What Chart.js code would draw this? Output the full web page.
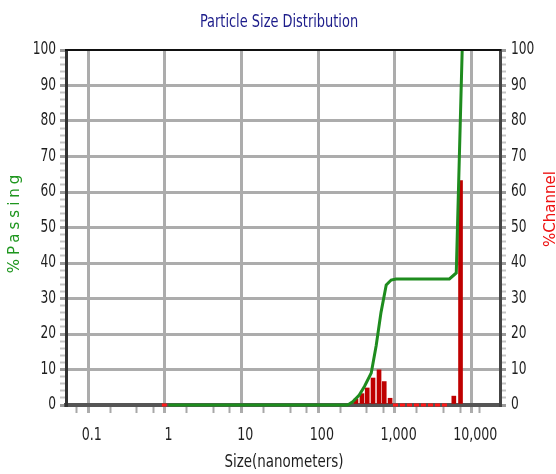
<!DOCTYPE html>
<html>
<head>
<meta charset="utf-8">
<script src="https://cdn.jsdelivr.net/npm/chart.js@4"></script>
<style>
  html, body { margin: 0; padding: 0; background: #fff; }
  canvas { display: block; }
</style>
</head>
<body>
<canvas id="psdChart" width="556" height="474"></canvas>
<script>
// cumulative % passing (green line)
const passSizes  = [1, 217, 252, 307, 360, 440, 510, 590, 690, 800, 925, 4600, 5650, 6750];
const passValues = [0, 0, 0.9, 2.8, 5.3, 9.0, 16.7, 26.1, 33.8, 35.2, 35.5, 35.5, 37.2, 100];

// % per channel (red bars)
const chanSizes  = [278, 333, 390, 464, 556, 650, 775, 5250, 6420];
const chanValues = [1.7, 3.2, 4.8, 7.6, 9.9, 6.6, 1.9, 2.5, 63.2];

// empty channels drawn as red dashes on the base line
const zeroSizes  = [0.82, 0.95, 1, 845, 4300];
const zeroValues = [0, 0, null, 0, 0];

// tick labels
const xMajorTicks = [0.1, 1, 10, 100, 1000, 10000];
const xMajorLabels = ['0.1', '1', '10', '100', '1,000', '10,000'];
const yTicks = [0, 10, 20, 30, 40, 50, 60, 70, 80, 90, 100];

const FONT = "'DejaVu Sans Condensed', 'DejaVu Sans', sans-serif";
const GRID = '#acacac';

function toPoints(xs, ys) {
    return xs.map((x, i) => ({ x: x, y: ys[i] }));
}

function isMajorX(v) {
    return xMajorTicks.some(t => Math.abs(Math.log10(v) - Math.log10(t)) < 1e-6);
}

// ticks along the x axis: decades plus small marks inside each decade
function buildXTicks(scale) {
    const ticks = [];
    for (let e = -2; e <= 4; e++) {
        [1, 3, 5, 8].forEach(m => {
            const v = m * Math.pow(10, e);
            if (v >= scale.min && v <= scale.max) ticks.push({ value: v, major: m === 1 });
        });
    }
    scale.ticks = ticks;
}

function buildYTicks(scale) {
    const ticks = [];
    for (let v = 0; v <= 100; v += 2) ticks.push({ value: v });
    scale.ticks = ticks;
}

// text squeezed horizontally, the original uses a narrow face
function squeezedText(ctx, text, x, y, size, color, align, sx) {
    ctx.save();
    ctx.translate(x, y);
    ctx.scale(sx, 1);
    ctx.font = size + 'px ' + FONT;
    ctx.fillStyle = color;
    ctx.textAlign = align;
    ctx.textBaseline = 'middle';
    ctx.fillText(text, 0, 0);
    ctx.restore();
}

// titles, tick labels and the top frame line
const decorations = {
    id: 'decorations',
    afterDraw(chart) {
        const ctx = chart.ctx;
        const area = chart.chartArea;
        const sx = chart.scales.x;
        const sy = chart.scales.y;
        const sy2 = chart.scales.y2;
        ctx.save();

        ctx.strokeStyle = '#111';
        ctx.lineWidth = 2;
        ctx.beginPath();
        ctx.moveTo(area.left - 1, area.top);
        ctx.lineTo(area.right + 1, area.top);
        ctx.stroke();

        yTicks.forEach(v => {
            squeezedText(ctx, String(v), area.left - 10, sy.getPixelForValue(v), 17, '#1e1e1e', 'right', 0.8);
            squeezedText(ctx, String(v), area.right + 11, sy2.getPixelForValue(v), 17, '#1e1e1e', 'left', 0.8);
        });
        xMajorTicks.forEach((v, i) => {
            squeezedText(ctx, xMajorLabels[i], sx.getPixelForValue(v), area.bottom + 30, 18, '#1e1e1e', 'center', 0.78);
        });

        squeezedText(ctx, 'Particle Size Distribution', 279, 22, 18, '#1c1c8a', 'center', 0.8);
        squeezedText(ctx, 'Size(nanometers)', 284, 462, 18, '#1e1e1e', 'center', 0.83);

        ctx.textAlign = 'center';
        ctx.textBaseline = 'middle';

        ctx.save();
        ctx.translate(15, 224);
        ctx.rotate(-Math.PI / 2);
        ctx.fillStyle = '#1e961e';
        ctx.font = "15px 'DejaVu Sans', sans-serif";
        ctx.letterSpacing = '4px';
        ctx.fillText('%Passing', 2, 0);
        ctx.restore();

        ctx.save();
        ctx.translate(551, 209);
        ctx.rotate(-Math.PI / 2);
        ctx.fillStyle = '#ee1111';
        ctx.font = "15px 'DejaVu Sans', sans-serif";
        ctx.fillText('%Channel', 0, 0);
        ctx.restore();

        ctx.restore();
    }
};

const yGrid = {
    lineWidth: 3,
    color: c => (c.tick && c.tick.value % 10 === 0 && c.tick.value > 0 && c.tick.value < 100) ? GRID : 'rgba(0,0,0,0)',
    tickColor: c => (c.tick && c.tick.value % 10 === 0) ? '#9a9a9a' : '#c4c4c4',
    tickWidth: c => (c.tick && c.tick.value % 10 === 0) ? 3 : 2,
    tickLength: 6
};

new Chart(document.getElementById('psdChart'), {
    data: {
        datasets: [
            {
                type: 'line',
                label: '%Passing',
                data: toPoints(passSizes, passValues),
                yAxisID: 'y',
                borderColor: '#1e8c1e',
                borderWidth: 3,
                pointRadius: 0,
                tension: 0,
                clip: 6,
                order: 0
            },
            {
                type: 'bar',
                label: '%Channel',
                data: toPoints(chanSizes, chanValues),
                yAxisID: 'y2',
                backgroundColor: '#bf0000',
                borderWidth: 0,
                barThickness: 4,
                order: 1
            },
            {
                type: 'line',
                label: 'empty',
                data: toPoints(zeroSizes, zeroValues),
                yAxisID: 'y2',
                borderColor: '#ff1a1a',
                borderWidth: 3,
                borderDash: [5, 2],
                pointRadius: 0,
                spanGaps: false,
                clip: 6,
                order: 2
            }
        ]
    },
    options: {
        responsive: false,
        animation: false,
        layout: { padding: { top: 50, left: 0, right: 0, bottom: 0 } },
        plugins: {
            legend: { display: false },
            tooltip: { enabled: false },
            title: { display: false }
        },
        scales: {
            x: {
                type: 'logarithmic',
                position: 'bottom',
                bounds: 'data',
                min: 0.0461,
                max: 21000,
                afterBuildTicks: buildXTicks,
                afterFit: s => { s.height = 69; },
                ticks: { display: false, autoSkip: false },
                grid: {
                    lineWidth: 3,
                    color: c => (c.tick && isMajorX(c.tick.value)) ? GRID : 'rgba(0,0,0,0)',
                    tickColor: c => (c.tick && isMajorX(c.tick.value)) ? GRID : '#a8a8a8',
                    tickWidth: c => (c.tick && isMajorX(c.tick.value)) ? 3 : 2,
                    tickLength: 8
                },
                border: { display: true, color: '#555', width: 4 }
            },
            y: {
                position: 'left',
                min: 0,
                max: 100,
                afterBuildTicks: buildYTicks,
                afterFit: s => { s.width = 66; },
                ticks: { display: false, autoSkip: false },
                grid: yGrid,
                border: { display: true, color: '#333', width: 3 }
            },
            y2: {
                position: 'right',
                min: 0,
                max: 100,
                afterBuildTicks: buildYTicks,
                afterFit: s => { s.width = 56; },
                ticks: { display: false, autoSkip: false },
                grid: Object.assign({}, yGrid, { drawOnChartArea: false }),
                border: { display: true, color: '#444', width: 3 }
            }
        }
    },
    plugins: [decorations]
});
</script>
</body>
</html>
